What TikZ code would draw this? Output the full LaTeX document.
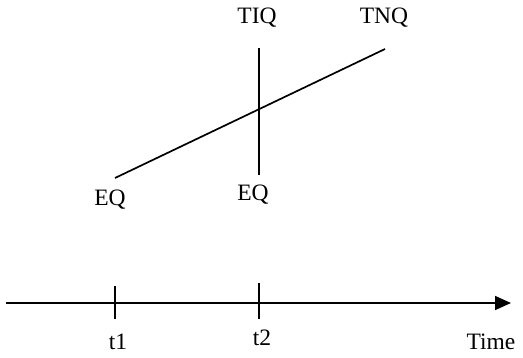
\documentclass[tikz,border=0pt]{standalone}
\usepackage{fontspec}
\setmainfont{Liberation Serif}
\usetikzlibrary{arrows.meta}
\begin{document}
\begin{tikzpicture}[x=1pt,y=-1pt,
  lbl/.style={font=\fontsize{23.5}{26}\selectfont, inner sep=0pt},
  ln/.style={line width=1.7pt}]
\useasboundingbox (0,0) rectangle (523,357);
% time axis
\coordinate (a0) at (6,303);
\coordinate (a1) at (511,303);
\draw[ln,-{Triangle[length=16pt,width=14pt]}] (a0) -- (a1);
\coordinate (t1a) at (115,286);
\coordinate (t1b) at (115,319);
\coordinate (t2a) at (259,283);
\coordinate (t2b) at (259,319);
\draw[ln] (t1a) -- (t1b);
\draw[ln] (t2a) -- (t2b);
\node[lbl] (t1) at (118,342) {t1};
\node[lbl] (t2) at (262,338) {t2};
\node[lbl] (time) at (491,342) {Time};
% quality lines
\coordinate (d0) at (115,178);
\coordinate (d1) at (385,49);
\coordinate (v0) at (259,48);
\coordinate (v1) at (259,175);
\draw[ln] (d0) -- (d1);
\draw[ln] (v0) -- (v1);
\node[lbl] (tiq) at (257,18) {TIQ};
\node[lbl] (tnq) at (384,18) {TNQ};
\node[lbl] (eq1) at (110,200) {EQ};
\node[lbl] (eq2) at (253,195) {EQ};
\end{tikzpicture}
\end{document}
